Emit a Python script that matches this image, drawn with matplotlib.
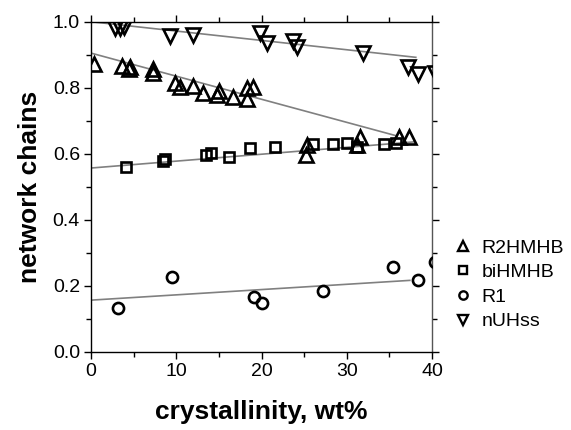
import matplotlib
matplotlib.use("Agg")
import matplotlib.pyplot as plt
import numpy as np
from matplotlib.ticker import MultipleLocator

plt.rcParams["font.family"] = ["Liberation Sans", "DejaVu Sans"]

# crystallinity (wt%) vs fraction of network chains
r2_x = [0.3, 3.6, 4.4, 4.6, 7.3, 7.3, 9.9, 10.4, 12.0, 13.1, 14.8, 15.0, 16.7, 18.3, 18.3, 19.0,
        25.2, 25.3, 31.2, 31.6, 36.1, 37.3]
r2_y = [0.873, 0.867, 0.858, 0.864, 0.858, 0.845, 0.813, 0.801, 0.804, 0.783, 0.777, 0.79, 0.771,
        0.765, 0.798, 0.801, 0.596, 0.627, 0.627, 0.651, 0.651, 0.651]

bi_x = [4.1, 8.4, 8.7, 13.5, 14.1, 16.2, 18.7, 21.6, 26.0, 28.4, 30.0, 31.2, 34.4, 35.8]
bi_y = [0.560, 0.578, 0.584, 0.596, 0.602, 0.590, 0.617, 0.621, 0.630, 0.630, 0.633, 0.621,
        0.630, 0.633]

r1_x = [3.2, 9.5, 19.1, 20.1, 27.2, 35.4, 38.3, 40.3]
r1_y = [0.133, 0.226, 0.166, 0.148, 0.184, 0.256, 0.217, 0.274]

nu_x = [2.8, 3.4, 3.9, 9.3, 12.0, 19.8, 20.6, 23.7, 24.2, 31.9, 37.2, 38.4, 40.3]
nu_y = [0.982, 0.982, 0.985, 0.958, 0.961, 0.967, 0.937, 0.943, 0.922, 0.904, 0.864, 0.843, 0.845]

# linear fits: intercept, slope, x end
fits = {
    "R2HMHB": (0.905, -0.00699, 35.9),
    "biHMHB": (0.557, 0.00209, 37.8),
    "R1": (0.157, 0.0016, 37.4),
    "nUHss": (1.0, -0.00283, 38.1),
}

series = [
    ("R2HMHB", r2_x, r2_y, "^", 10),
    ("biHMHB", bi_x, bi_y, "s", 7),
    ("R1", r1_x, r1_y, "o", 8),
    ("nUHss", nu_x, nu_y, "v", 10),
]

fig = plt.figure(figsize=(5.71, 4.30), dpi=100)
ax = fig.add_axes([0.1594, 0.1814, 0.5972, 0.7681])

for name, x, y, m, ms in series:
    b, k, xe = fits[name]
    xl = np.array([0, xe])
    ax.plot(xl, b + k * xl, color="#808080", lw=1.2, zorder=1)

for name, x, y, m, ms in series:
    ax.plot(x, y, ls="none", marker=m, ms=ms, mfc="none", mec="black", mew=1.9,
            label=name, zorder=3)

ax.set_xlim(0, 40)
ax.set_ylim(0, 1.0)
ax.xaxis.set_major_locator(MultipleLocator(10))
ax.xaxis.set_minor_locator(MultipleLocator(5))
ax.yaxis.set_major_locator(MultipleLocator(0.2))
ax.yaxis.set_minor_locator(MultipleLocator(0.1))
ax.yaxis.set_major_formatter(plt.FormatStrFormatter("%.1f"))

ax.tick_params(which="both", direction="out", top=True, right=True, labelsize=14,
               width=1.0, color="black")
ax.tick_params(which="major", length=5, pad=3)
ax.tick_params(which="minor", length=3.5)
for s in ax.spines.values():
    s.set_linewidth(1.0)
ax.spines["right"].set_color("#555555")

ax.set_xlabel("crystallinity, wt%", fontsize=19, fontweight="bold", labelpad=14)
ax.set_ylabel("network chains", fontsize=19, fontweight="bold", labelpad=8)

leg_handles = []
for name, x, y, m, ms in series:
    lh, = ax.plot([], [], ls="none", marker=m, ms=ms * 0.75, mfc="none", mec="black", mew=1.7)
    leg_handles.append(lh)
fig.legend(leg_handles, [s[0] for s in series], loc="center left",
           bbox_to_anchor=(0.78, 0.338), frameon=False, fontsize=14,
           handlelength=1.0, handletextpad=0.45, labelspacing=0.36, borderaxespad=0)

fig.savefig("out.png", dpi=100)
